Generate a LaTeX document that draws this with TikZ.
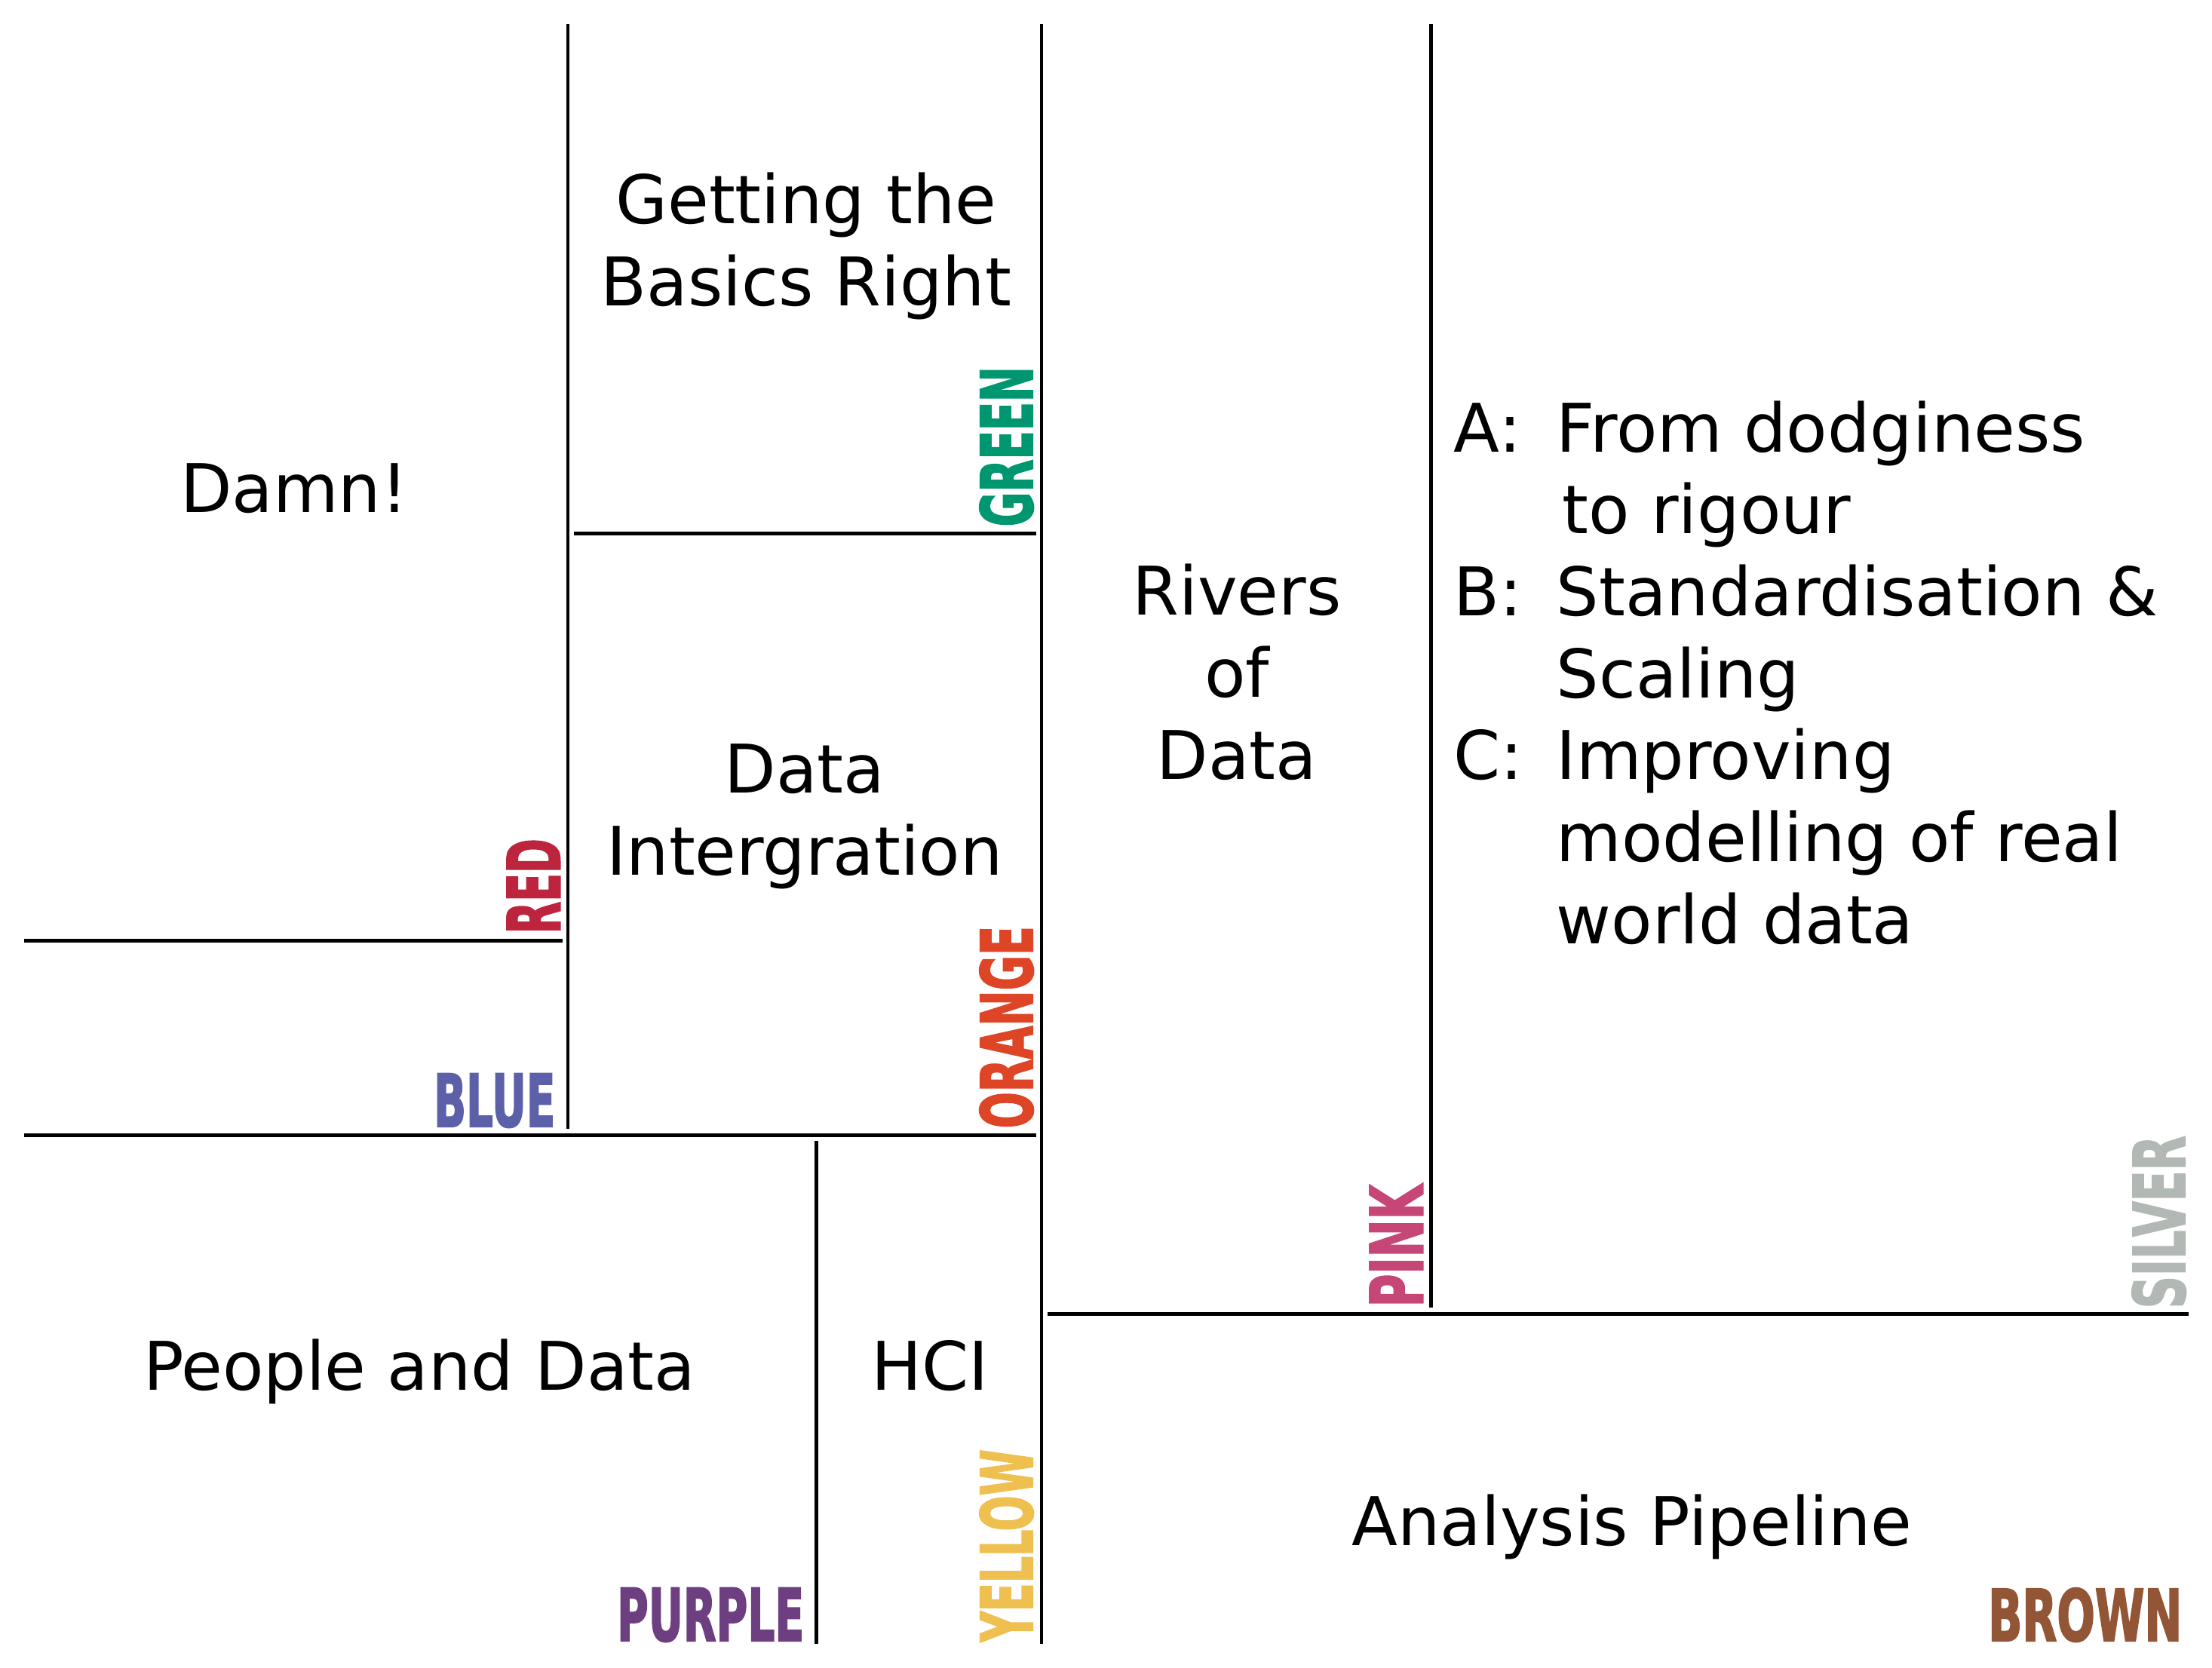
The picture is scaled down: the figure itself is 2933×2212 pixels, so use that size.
\documentclass[tikz,border=0pt]{standalone}
\usepackage{fontspec}
\setmainfont{DejaVu Sans}
\newfontfamily\tagfont{DejaVu Sans}[BoldFeatures={FakeBold=2.5}]
\usepackage{graphicx}
\usetikzlibrary{positioning}

\definecolor{tgreen}{RGB}{0,150,112}
\definecolor{tred}{RGB}{188,37,61}
\definecolor{tblue}{RGB}{92,96,168}
\definecolor{torange}{RGB}{222,69,38}
\definecolor{tpurple}{RGB}{110,63,128}
\definecolor{tyellow}{RGB}{239,191,79}
\definecolor{tpink}{RGB}{197,70,119}
\definecolor{tsilver}{RGB}{178,185,181}
\definecolor{tbrown}{RGB}{146,85,53}

\newcommand{\tagtext}[2]{\resizebox{#1}{0.7cm}{\tagfont\bfseries #2}}

\begin{document}
\begin{tikzpicture}[x=0.01cm, y=-0.01cm,
		wall/.style={line width=0.047cm},
		topic/.style={align=center, inner sep=0pt, anchor=base,
			font=\fontsize{25.3pt}{30.9pt}\selectfont},
		vtag/.style={rotate=90, anchor=south west, inner sep=0pt},
		htag/.style={anchor=south east, inner sep=0pt}
		]
		\useasboundingbox (0,0) rectangle (2933,2212);
		
		\foreach \xa/\ya/\xb/\yb in {753/32/753/1497, 1381/32/1381/2180,
			1897.5/32/1897.5/1734, 761/707.5/1374/707.5, 32/1247.5/746/1247.5,
			32/1505.5/1374/1505.5, 1082.5/1513/1082.5/2180, 1389/1742.5/2902/1742.5}
		\draw[wall] (\xa,\ya) -- (\xb,\yb);
		
		\node[topic] (damn) at (390,679) {Damn!};
		\node[topic] (basics) at (1069,405) {Getting the\\Basics Right};
		\node[topic] (integration) at (1067,1160) {Data\\Intergration};
		\node[topic] (rivers) at (1640,1033) {Rivers\\of\\Data};
		\node[topic] (people) at (556,1843) {People and Data};
		\node[topic] (hci) at (1233,1843) {HCI};
		\node[topic] (pipeline) at (2164,2049) {Analysis Pipeline};
		\node[topic, align=left, anchor=base west] (goals) at (1927,1251)
		{\makebox[1.36cm][l]{A:}From dodginess\\\hspace*{1.44cm}to rigour\\
			\makebox[1.36cm][l]{B:}Standardisation \&\\\hspace*{1.36cm}Scaling\\
			\makebox[1.36cm][l]{C:}Improving\\\hspace*{1.36cm}modelling of real\\
			\hspace*{1.36cm}world data};
		
		\node[vtag, text=tgreen] (green) at (1371,699) {\tagtext{2.12cm}{GREEN}};
		\node[vtag, text=tred] (red) at (743,1239) {\tagtext{1.26cm}{RED}};
		\node[vtag, text=torange] (orange) at (1371,1497) {\tagtext{2.68cm}{ORANGE}};
		\node[vtag, text=tyellow] (yellow) at (1371,2178) {\tagtext{2.55cm}{YELLOW}};
		\node[vtag, text=tpink] (pink) at (1887,1734) {\tagtext{1.62cm}{PINK}};
		\node[vtag, text=tsilver] (silver) at (2899,1736) {\tagtext{2.29cm}{SILVER}};
		\node[htag, text=tblue] (blue) at (737,1496) {\tagtext{1.61cm}{BLUE}};
		\node[htag, text=tpurple] (purple) at (1067,2178) {\tagtext{2.48cm}{PURPLE}};
		\node[htag, text=tbrown] (brown) at (2894,2178) {\tagtext{2.57cm}{BROWN}};
	\end{tikzpicture}
\end{document}
